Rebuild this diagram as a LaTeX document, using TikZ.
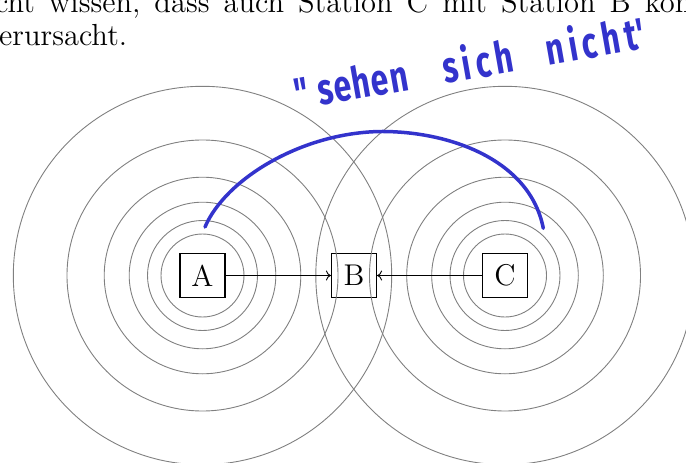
\documentclass[tikz,border=0pt]{standalone}
\usepackage{fontspec}
\newfontfamily\bodyfont{lmroman12-regular.otf}
\newfontfamily\handfont[LetterSpace=3]{Fira Sans}
\usetikzlibrary{arrows.meta}
\definecolor{pen}{RGB}{51,51,204}
\definecolor{ring}{RGB}{128,128,128}
\tikzset{
  ringline/.style={draw=ring, line width=0.9pt},
  station/.style={draw=black, line width=1.2pt, minimum width=45pt, minimum height=44pt, inner sep=0pt, font=\bodyfont\fontsize{30}{30}\selectfont},
  link/.style={draw=black, line width=0.9pt, -{To[length=5pt,width=10pt]}},
  body/.style={inner sep=0pt, anchor=base west, font=\bodyfont\fontsize{30.5}{30.5}\selectfont},
  hand/.style={text=pen, inner sep=0pt, anchor=base west, font=\handfont\bfseries\fontsize{44}{44}\selectfont},
  penline/.style={draw=pen, line width=3.5pt, line cap=round, line join=round}
}
\begin{document}
\begin{tikzpicture}[x=1pt,y=-1pt]
\useasboundingbox (0,0) rectangle (686,463);
\clip (0,0) rectangle (686,463);
% body text
\node[body] (line1) at (-30,12.5) {\spaceskip=14pt nicht wissen, dass auch Station C mit Station B kommuniziert};
\node[body] (line2) at (-1,45.5) {\llap{v}erursacht.};
% stations
\node[station] (A) at (202.5,275.5) {A};
\node[station] (B) at (354,275.5) {B};
\node[station] (C) at (505,275.5) {C};
% rings
\foreach \r in {41.5,55,73.3,98.3,135.5,189.2}{
  \draw[ringline] (A.center) circle[radius=\r pt];
  \draw[ringline] (C.center) circle[radius=\r pt];
}
% links
\draw[link] (A) -- (B);
\draw[link] (C) -- (B);
% annotation
\coordinate (arcL) at (205,227);
\coordinate (arcT) at (380,131.5);
\coordinate (arcR) at (543.3,228.3);
\draw[penline] (arcL) .. controls (225,180) and (300,133) .. (arcT)
                      .. controls (450,131) and (530,160) .. (arcR);
\node[hand, rotate=10] (note) at (297,110) {\scalebox{0.72}[1]{"\hspace{14pt}sehen\hspace{50pt}{\addfontfeatures{LetterSpace=14}sich}\hspace{46pt}{\addfontfeatures{LetterSpace=16}nicht}'}};
\end{tikzpicture}
\end{document}
